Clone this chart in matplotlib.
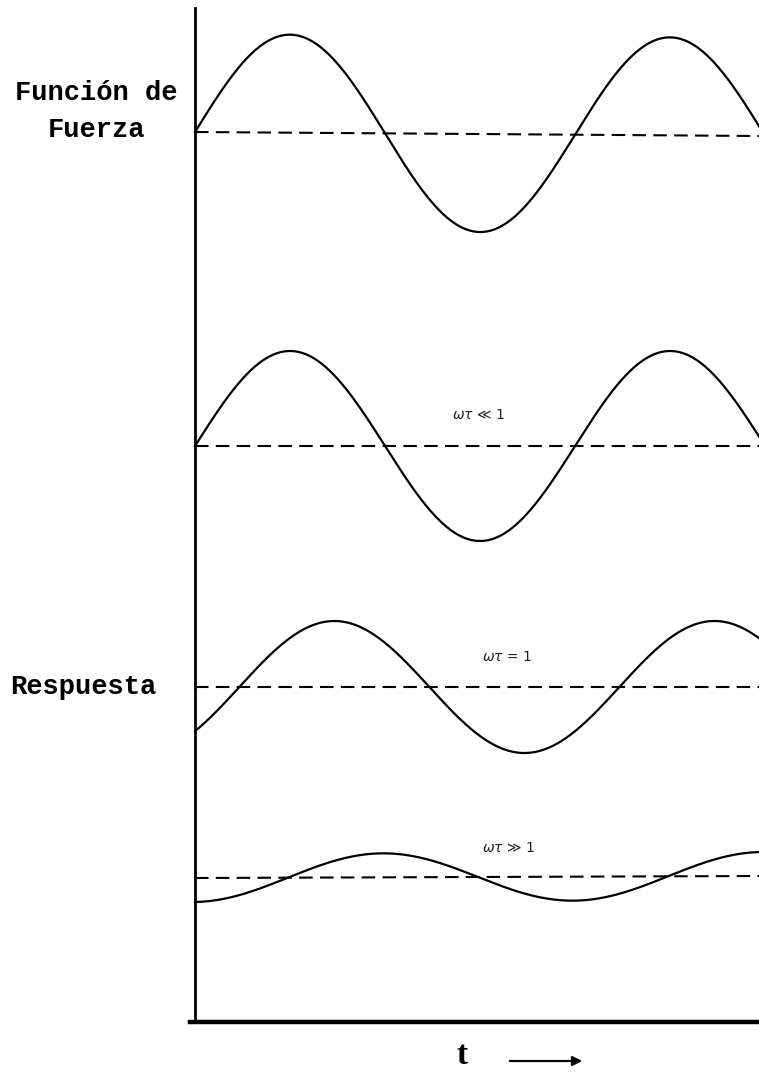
"""Función de fuerza y respuestas para distintos valores de ωτ."""
import numpy as np
import matplotlib
matplotlib.use("Agg")
import matplotlib.pyplot as plt

etiquetas = ["", r"$\omega\tau$ ≪ 1", r"$\omega\tau$ = 1", r"$\omega\tau$ ≫ 1"]
base_izq = [890, 576, 335, 144]
base_der = [886, 576, 335, 146]
amplitud = [98, 95, 66, 24]
desfase_grados = [0, 0, 42, 88]
t_max = 1.484          # duración visible, en periodos

W, H = 759, 1073
fig = plt.figure(figsize=(W / 100, H / 100), dpi=100)
ax = fig.add_axes([195 / W, (H - 1022) / H, (W - 195) / W, (1022 - 8) / H])
ax.set_xlim(0, t_max)
ax.set_ylim(0, 1014)
ax.set_xticks([])
ax.set_yticks([])
for lado in ["top", "right"]:
    ax.spines[lado].set_visible(False)
ax.spines["left"].set_linewidth(2.0)
ax.spines["bottom"].set_linewidth(3.2)
ax.spines["bottom"].set_bounds(-0.014, t_max)

t = np.linspace(0, t_max, 600)
for bi, bd, a, fi in zip(base_izq, base_der, amplitud, desfase_grados):
    base = bi + (bd - bi) * t / t_max
    y = base + a * np.sin(2 * np.pi * t - np.radians(fi))
    ax.plot(t, y, color="black", lw=1.6, clip_on=False)
    ax.plot([0, t_max], [bi, bd], color="black", lw=1.5, dashes=(6.5, 3.5))

# etiquetas ωτ
pos_etq = [(0, 0), (452, 415), (482, 657), (482, 848)]
for txt, (px, py) in zip(etiquetas, pos_etq):
    if txt:
        fig.text(px / W, 1 - py / H, txt, fontsize=10, color="#222222",
                 family=["DejaVu Sans"], ha="left", va="center")

fuente = dict(family=["Liberation Mono", "DejaVu Sans Mono"], fontweight="bold",
              fontsize=19.5, ha="center", va="center")
fig.text(96 / W, 1 - 93 / H, "Función de", **fuente)
fig.text(97 / W, 1 - 130 / H, "Fuerza", **fuente)
fig.text(83 / W, 1 - 687 / H, "Respuesta", **fuente)

fig.text(462 / W, 1 - 1056 / H, "t", family=["Liberation Serif"], fontweight="bold",
         fontsize=24, ha="center", va="center")
fig.patches.append(matplotlib.patches.FancyArrowPatch(
    (507 / W, 1 - 1061 / H), (585 / W, 1 - 1061 / H), transform=fig.transFigure,
    arrowstyle="-|>", mutation_scale=14, lw=1.6, color="black"))

fig.savefig("out.png", dpi=100)
